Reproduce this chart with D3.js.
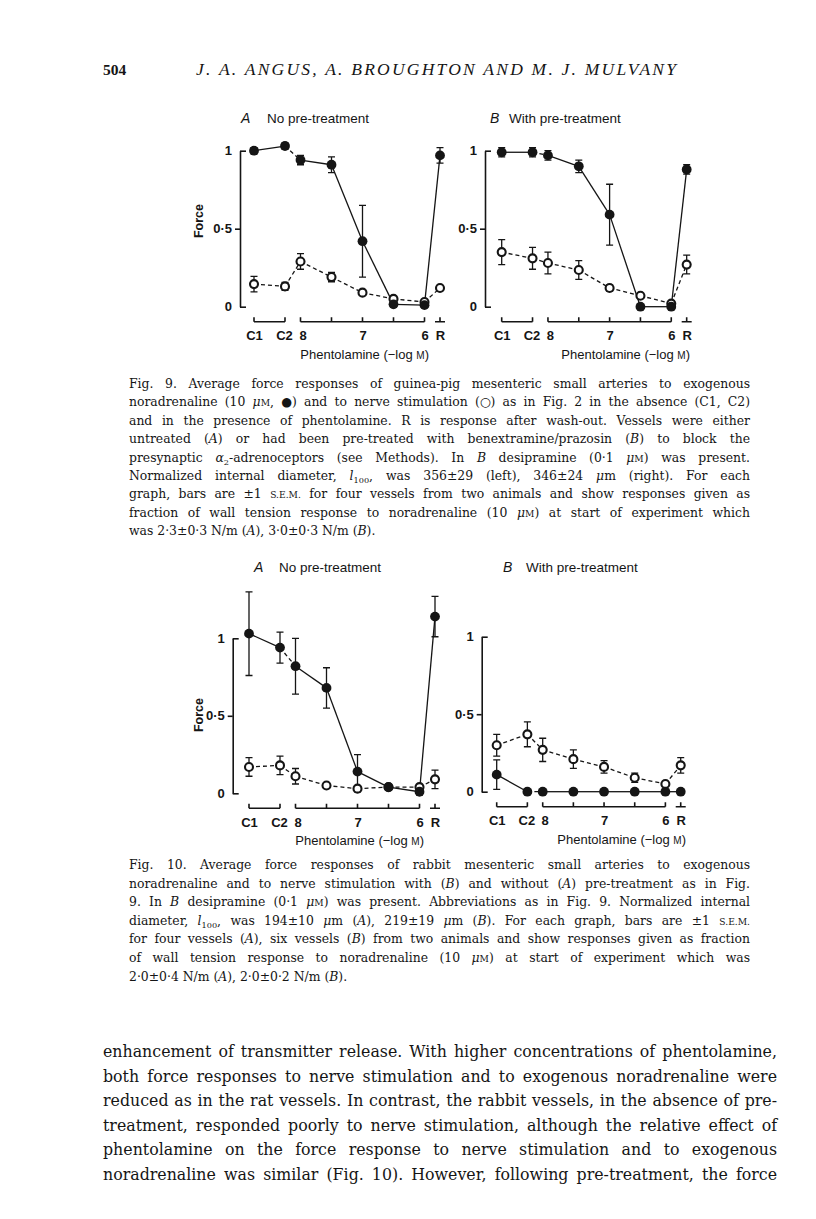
<!DOCTYPE html>
<html>
<head>
<meta charset="utf-8">
<script src="https://cdn.jsdelivr.net/npm/d3@7"></script>
<style>
  body { margin: 0; background: #fff; }
</style>
</head>
<body>
<svg id="page" width="816" height="1219"></svg>
<script>
// x axis conditions: control 1, control 2, phentolamine (-log M), wash-out
var conditions = ["C1", "C2", "8", "7.5", "7", "6.5", "6", "R"];
var slots = [0, 1, 1.5, 2.5, 3.5, 4.5, 5.5, 6];
var tickSlots = [0, 1, 1.5, 3.5, 5.5, 6];
var tickNames = ["C1", "C2", "8", "7", "6", "R"];
var bracketGroups = [["C1", "C2"], ["8", "7.5", "7", "6.5", "6"], ["R"]];
var yTicks = [0, 0.5, 1];
var yTickNames = ["0", "0·5", "1"];

// Fig. 9, guinea-pig. na = noradrenaline (filled), ns = nerve stimulation (open)
var na9A    = [1.00, 1.03, 0.94, 0.91, 0.42, 0.015, 0.01, 0.97];
var na9AErr = [0.02, 0.02, 0.03, 0.05, 0.23, 0.01, 0.01, 0.05];
var ns9A    = [0.145, 0.13, 0.29, 0.19, 0.09, 0.05, 0.03, 0.12];
var ns9AErr = [0.05, 0.025, 0.05, 0.03, 0.01, 0.01, 0.01, 0.01];

var na9B    = [0.99, 0.99, 0.97, 0.90, 0.59, 0.0, 0.0, 0.88];
var na9BErr = [0.03, 0.03, 0.03, 0.04, 0.195, 0, 0, 0.03];
var ns9B    = [0.35, 0.31, 0.28, 0.235, 0.12, 0.07, 0.02, 0.27];
var ns9BErr = [0.08, 0.07, 0.07, 0.06, 0.02, 0.01, 0, 0.06];

// Fig. 10, rabbit
var na10A    = [1.03, 0.94, 0.82, 0.68, 0.14, 0.04, 0.01, 1.14];
var na10AErr = [0.27, 0.10, 0.18, 0.13, 0.11, 0.01, 0.02, 0.13];
var ns10A    = [0.17, 0.18, 0.11, 0.05, 0.03, 0.04, 0.04, 0.09];
var ns10AErr = [0.06, 0.06, 0.05, 0.01, 0.02, 0, 0.01, 0.06];

var na10B    = [0.11, 0, 0, 0, 0, 0, 0, 0];
var na10BErr = [0.095, 0, 0, 0, 0, 0, 0, 0];
var ns10B    = [0.30, 0.37, 0.27, 0.21, 0.16, 0.09, 0.05, 0.17];
var ns10BErr = [0.07, 0.08, 0.075, 0.06, 0.04, 0.03, 0.01, 0.05];

// page text
var header = "504";
var authors = "J. A. ANGUS, A. BROUGHTON AND M. J. MULVANY";
var xTitle = "Phentolamine (−log ";
var caption9 = [
  "Fig. 9. Average force responses of guinea-pig mesenteric small arteries to exogenous",
  "noradrenaline (10 *μ*^M^, ●) and to nerve stimulation (○) as in Fig. 2 in the absence (C1, C2)",
  "and in the presence of phentolamine. R is response after wash-out. Vessels were either",
  "untreated (*A*) or had been pre-treated with benextramine/prazosin (*B*) to block the",
  "presynaptic *α*~2~-adrenoceptors (see Methods). In *B* desipramine (0·1 *μ*^M^) was present.",
  "Normalized internal diameter, *l*~100~, was 356±29 (left), 346±24 *μ*m (right). For each",
  "graph, bars are ±1 ^S.E.M.^ for four vessels from two animals and show responses given as",
  "fraction of wall tension response to noradrenaline (10 *μ*^M^) at start of experiment which",
  "was 2·3±0·3 N/m (*A*), 3·0±0·3 N/m (*B*)."
];
var caption10 = [
  "Fig. 10. Average force responses of rabbit mesenteric small arteries to exogenous",
  "noradrenaline and to nerve stimulation with (*B*) and without (*A*) pre-treatment as in Fig.",
  "9. In *B* desipramine (0·1 *μ*^M^) was present. Abbreviations as in Fig. 9. Normalized internal",
  "diameter, *l*~100~, was 194±10 *μ*m (*A*), 219±19 *μ*m (*B*). For each graph, bars are ±1 ^S.E.M.^",
  "for four vessels (*A*), six vessels (*B*) from two animals and show responses given as fraction",
  "of wall tension response to noradrenaline (10 *μ*^M^) at start of experiment which was",
  "2·0±0·4 N/m (*A*), 2·0±0·2 N/m (*B*)."
];
var body = [
  "enhancement of transmitter release. With higher concentrations of phentolamine,",
  "both force responses to nerve stimulation and to exogenous noradrenaline were",
  "reduced as in the rat vessels. In contrast, the rabbit vessels, in the absence of pre-",
  "treatment, responded poorly to nerve stimulation, although the relative effect of",
  "phentolamine on the force response to nerve stimulation and to exogenous",
  "noradrenaline was similar (Fig. 10). However, following pre-treatment, the force"
];

var ink = "#151515";
var sans = "'Liberation Sans', Arial, sans-serif";
var serif = "'DejaVu Serif', 'Liberation Serif', serif";
var headSerif = "'Liberation Serif', 'Times New Roman', serif";

var svg = d3.select("#page");
svg.append("rect").attr("width", 816).attr("height", 1219).attr("fill", "#fff");

var slot = d3.scaleOrdinal().domain(conditions).range(slots);

var panels = [
  {letter: "A", title: "No pre-treatment", na: na9A, naErr: na9AErr, ns: ns9A, nsErr: ns9AErr,
   axisX: 240, x0: 254, unit: 31, yTop: 150.7, yBase: 306.7, letterX: 241, titleX: 267, titleY: 123,
   xTitleEnd: 429, forceY: 221},
  {letter: "B", title: "With pre-treatment", na: na9B, naErr: na9BErr, ns: ns9B, nsErr: ns9BErr,
   axisX: 485, x0: 501.7, unit: 30.83, yTop: 150.7, yBase: 306.7, letterX: 490, titleX: 509, titleY: 123,
   xTitleEnd: 690},
  {letter: "A", title: "No pre-treatment", na: na10A, naErr: na10AErr, ns: ns10A, nsErr: ns10AErr,
   axisX: 232.7, x0: 249, unit: 31, yTop: 638.3, yBase: 793.3, letterX: 254, titleX: 279, titleY: 572,
   xTitleEnd: 424, forceY: 715},
  {letter: "B", title: "With pre-treatment", na: na10B, naErr: na10BErr, ns: ns10B, nsErr: ns10BErr,
   axisX: 481.7, x0: 496.7, unit: 30.67, yTop: 636.7, yBase: 791.7, letterX: 503, titleX: 526, titleY: 572,
   xTitleEnd: 686}
];

function drawPanel(p) {
  var g = svg.append("g");
  var x = d3.scaleLinear().domain([0, 6]).range([p.x0, p.x0 + 6 * p.unit]);
  var y = d3.scaleLinear().domain([0, 1]).range([p.yBase, p.yTop]);
  var px = function(c) { return x(slot(c)); };

  // panel title
  g.append("text").attr("x", p.letterX).attr("y", p.titleY)
    .attr("font-family", sans).attr("font-size", 14).attr("font-style", "italic").attr("fill", ink)
    .text(p.letter);
  g.append("text").attr("x", p.titleX).attr("y", p.titleY)
    .attr("font-family", sans).attr("font-size", 13.5).attr("fill", ink)
    .text(p.title);

  // y axis
  var ya = g.append("g").attr("transform", "translate(" + p.axisX + ",0)")
    .call(d3.axisLeft(y).tickValues(yTicks).tickFormat(function(d, i) { return yTickNames[i]; })
      .tickSize(0).tickPadding(8));
  ya.attr("font-family", sans).attr("font-size", 13).attr("font-weight", "bold");
  ya.select(".domain").attr("stroke", ink).attr("stroke-width", 1.6);
  ya.selectAll(".tick line").attr("x2", function(d) { return d === 0.5 ? -5 : 6; })
    .attr("stroke", ink).attr("stroke-width", 1.6);
  ya.selectAll(".tick text").attr("fill", ink);

  if (p.forceY) {
    g.append("text").attr("transform", "translate(203," + p.forceY + ") rotate(-90)")
      .attr("text-anchor", "middle").attr("font-family", sans).attr("font-size", 12.5)
      .attr("font-weight", "bold").attr("fill", ink).text("Force");
  }

  // x labels
  var yb = p.yBase + 15;
  var xa = g.append("g").attr("transform", "translate(0," + yb + ")")
    .call(d3.axisBottom(x).tickValues(tickSlots).tickFormat(function(d, i) { return tickNames[i]; })
      .tickSize(0).tickPadding(9));
  xa.attr("font-family", sans).attr("font-size", 13).attr("font-weight", "bold");
  xa.select(".domain").remove();
  xa.selectAll(".tick text").attr("fill", ink)
    .attr("dx", function(d) { return d === 1.5 ? 2 : (d === 1 ? -1 : 0); });

  // brackets below the axis
  bracketGroups.forEach(function(grp) {
    var xs = grp.map(px);
    var lo = d3.min(xs), hi = d3.max(xs);
    if (grp.length === 1) { lo -= 5; hi += 5; }
    var d = "M" + lo + "," + yb + "H" + hi;
    xs.forEach(function(xi) { d += "M" + xi + "," + yb + "V" + (yb - 4.5); });
    g.append("path").attr("d", d).attr("fill", "none").attr("stroke", ink).attr("stroke-width", 1.6);
  });

  var t = g.append("text").attr("x", p.xTitleEnd).attr("y", p.yBase + 52)
    .attr("text-anchor", "end").attr("font-family", sans).attr("font-size", 13).attr("fill", ink);
  t.append("tspan").text(xTitle);
  t.append("tspan").attr("font-size", 10).text("M");
  t.append("tspan").text(")");

  var line = d3.line().x(function(d) { return px(d.c); }).y(function(d) { return y(d.v); });

  function points(vals, errs) {
    return conditions.map(function(c, i) { return {c: c, v: vals[i], e: errs[i]}; });
  }
  var series = [
    {pts: points(p.ns, p.nsErr), filled: false},
    {pts: points(p.na, p.naErr), filled: true}
  ];

  series.forEach(function(s) {
    for (var i = 0; i < s.pts.length - 1; i++) {
      var dashed = !s.filled || i === 1;
      g.append("path").attr("d", line([s.pts[i], s.pts[i + 1]]))
        .attr("fill", "none").attr("stroke", ink).attr("stroke-width", 1.3)
        .attr("stroke-dasharray", dashed ? "4,3" : null);
    }
  });

  series.forEach(function(s) {
    s.pts.filter(function(d) { return d.e > 0; }).forEach(function(d) {
      var xi = px(d.c), y1 = y(d.v + d.e), y2 = y(d.v - d.e);
      g.append("path")
        .attr("d", "M" + xi + "," + y1 + "V" + y2 + "M" + (xi - 3.5) + "," + y1 + "H" + (xi + 3.5) +
          "M" + (xi - 3.5) + "," + y2 + "H" + (xi + 3.5))
        .attr("fill", "none").attr("stroke", ink).attr("stroke-width", 1.3);
    });
  });

  series.forEach(function(s) {
    g.selectAll(null).data(s.pts).enter().append("circle")
      .attr("cx", function(d) { return px(d.c); })
      .attr("cy", function(d) { return y(d.v); })
      .attr("r", s.filled ? 4.9 : 4)
      .attr("fill", s.filled ? ink : "#fff")
      .attr("stroke", ink)
      .attr("stroke-width", s.filled ? 0 : 2.1);
  });
}

panels.forEach(drawPanel);

// rich text: *italic*, ^small caps^, ~subscript~
function richLine(x0, x1, yy, str, size, justify) {
  var t = svg.append("text").attr("x", x0).attr("y", yy)
    .attr("font-family", serif).attr("font-size", size).attr("fill", ink);
  var parts = str.split(/(\*[^*]+\*|\^[^^]+\^|~[^~]+~)/);
  var shift = 0;
  parts.forEach(function(part) {
    if (!part) return;
    var ts = t.append("tspan");
    var kind = part[0];
    var txt = (kind === "*" || kind === "^" || kind === "~") ? part.slice(1, -1) : part;
    if (shift) { ts.attr("dy", -shift); shift = 0; }
    if (kind === "*") ts.attr("font-style", "italic");
    else if (kind === "^") ts.attr("font-size", size * 0.74);
    else if (kind === "~") { ts.attr("font-size", size * 0.66).attr("dy", 3); shift = 3; }
    ts.text(txt);
  });
  if (justify) {
    var w = t.node().getComputedTextLength();
    var spaces = str.split(" ").length - 1;
    var target = x1 - x0;
    if (w < target && spaces > 0) t.attr("word-spacing", (target - w) / spaces);
    else if (w > target) t.attr("textLength", target).attr("lengthAdjust", "spacingAndGlyphs");
  }
  return t;
}

// running head
svg.append("text").attr("x", 103).attr("y", 75).attr("font-family", headSerif)
  .attr("font-size", 15.5).attr("font-weight", "bold").attr("fill", ink).text(header);
svg.append("text").attr("x", 196).attr("y", 75).attr("font-family", headSerif)
  .attr("font-size", 17.5).attr("font-style", "italic").attr("fill", ink)
  .attr("textLength", 480).attr("lengthAdjust", "spacing").text(authors);

caption9.forEach(function(s, i) {
  richLine(129, 750, 388 + i * 18.4, s, 12.4, i < caption9.length - 1);
});
caption10.forEach(function(s, i) {
  richLine(129, 750, 869 + i * 18.6, s, 12.4, i < caption10.length - 1);
});
body.forEach(function(s, i) {
  richLine(103, 777, 1057 + i * 24.6, s, 15.8, true);
});
</script>
</body>
</html>
